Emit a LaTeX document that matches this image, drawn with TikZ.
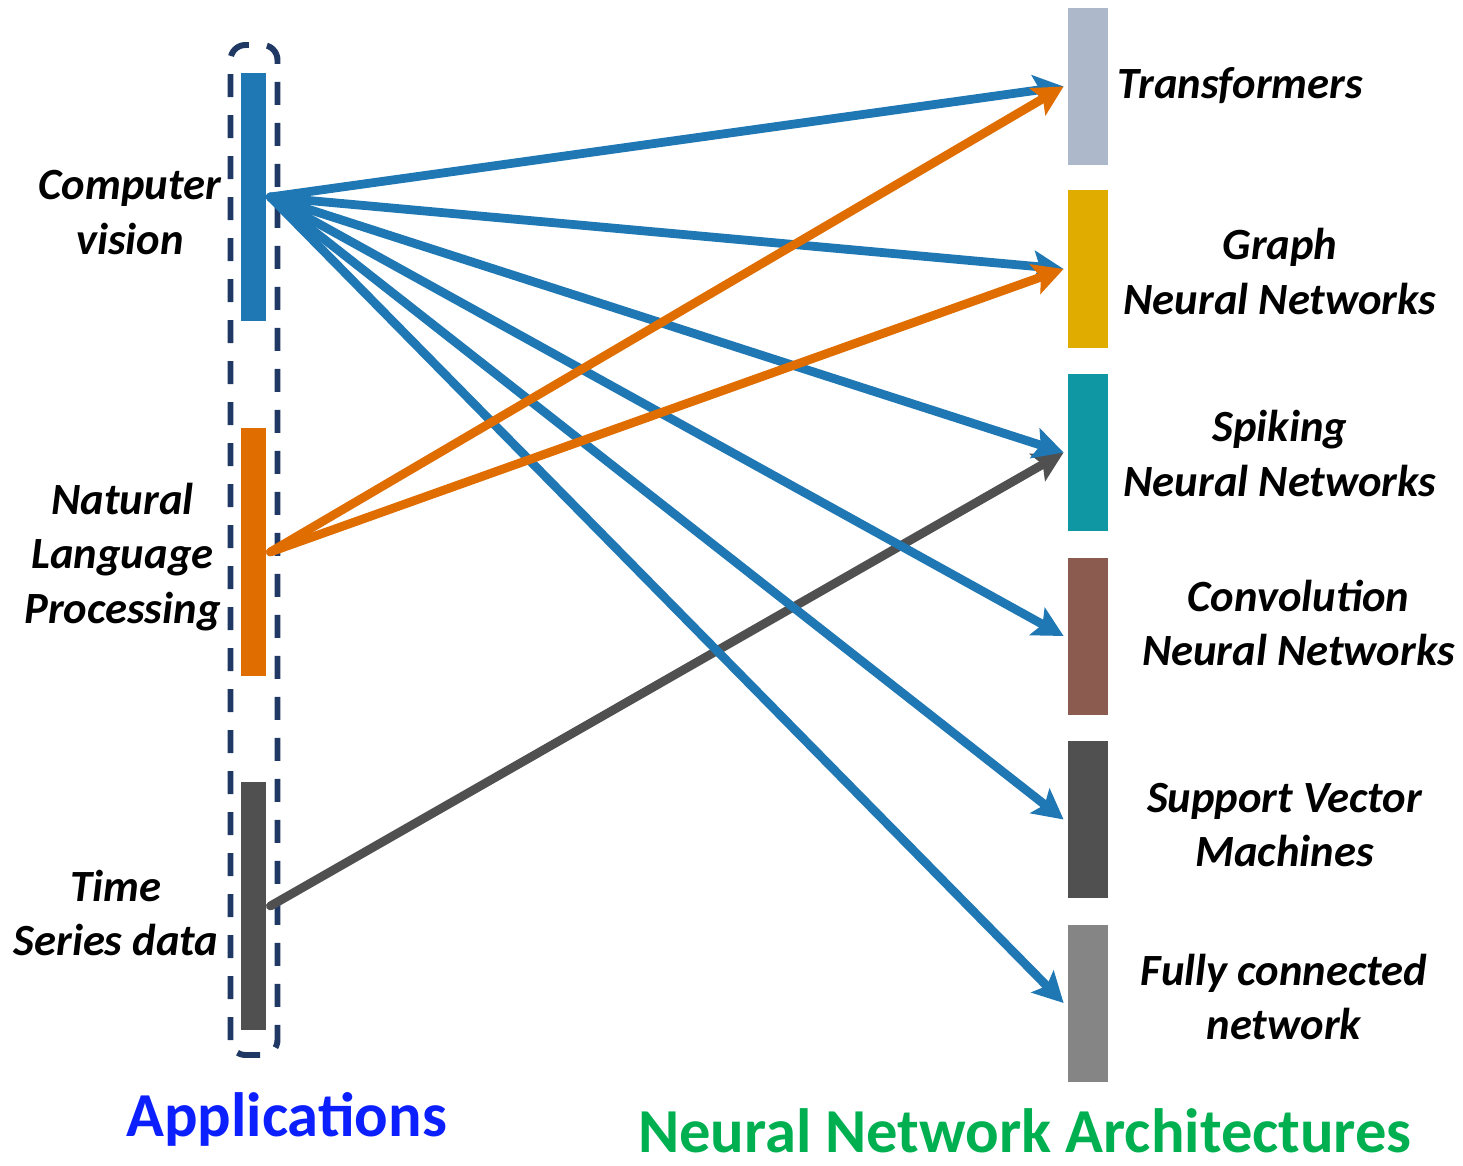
\documentclass[tikz,border=0pt]{standalone}
\usepackage{fontspec}
\setmainfont{Carlito}
\usepackage{xcolor}
\usepackage{tikz}
\usetikzlibrary{arrows.meta}
\definecolor{cvblue}{HTML}{1F77B4}
\definecolor{nlporange}{HTML}{DF6D00}
\definecolor{tsgray}{HTML}{505050}
\definecolor{trgray}{HTML}{ADB9CA}
\definecolor{gnngold}{HTML}{E0AC00}
\definecolor{snnteal}{HTML}{0F97A3}
\definecolor{cnnbrown}{HTML}{8C5B50}
\definecolor{fcgray}{HTML}{858585}
\definecolor{boxnavy}{HTML}{1F3864}
\definecolor{appblue}{HTML}{0B1FFF}
\definecolor{archgreen}{HTML}{00B050}
\tikzset{
	app node/.style={rectangle,fill=#1,minimum width=0.25cm,minimum height=2.48cm,inner sep=0pt},
	arch node/.style={rectangle,fill=#1,minimum width=0.40cm,minimum height=1.57cm,inner sep=0pt},
	text node/.style={align=center,inner sep=0pt,font=\fontsize{12.7}{15.4}\selectfont\bfseries\itshape},
	title node/.style={anchor=base,inner sep=0pt,text depth=0pt,font=\fontsize{17.8}{20}\selectfont\bfseries}
}

\begin{document}
\begin{tikzpicture}[->,>={Stealth[length=3mm,width=3.1mm,inset=0.6mm]},line width=2.5pt]
	\useasboundingbox (0,0) rectangle (14.63,11.65);
	\draw[-,boxnavy,line width=1.7pt,dash pattern=on 2.3mm off 1.8mm,rounded corners=1.5mm] (2.305,1.10) rectangle (2.775,11.20);
	% applications
	\node[app node=cvblue] (1) at (2.535,9.68) {};
	\node[app node=nlporange] (2) at (2.535,6.13) {};
	\node[app node=tsgray] (3) at (2.535,2.59) {};
	\node[text node] (l1) at (1.30,9.525) {Computer\\vision};
	\node[text node] (l2) at (1.225,6.08) {Natural\\Language\\Processing};
	\node[text node] (l3) at (1.16,2.52) {Time\\Series data};
	% architectures
	\node[arch node=trgray] (4) at (10.88,10.785) {};
	\node[arch node=gnngold] (5) at (10.88,8.96) {};
	\node[arch node=snnteal] (6) at (10.88,7.125) {};
	\node[arch node=cnnbrown] (7) at (10.88,5.29) {};
	\node[arch node=tsgray] (8) at (10.88,3.455) {};
	\node[arch node=fcgray] (9) at (10.88,1.62) {};
	\node[text node] (l4) at (12.405,10.79) {Transformers};
	\node[text node] (l5) at (12.80,8.935) {Graph\\Neural Networks};
	\node[text node] (l6) at (12.80,7.115) {Spiking\\Neural Networks};
	\node[text node] (l7) at (12.985,5.42) {Convolution\\Neural Networks};
	\node[text node] (l8) at (12.845,3.40) {Support Vector\\Machines};
	\node[text node] (l9) at (12.84,1.68) {Fully connected\\network};
	% titles
	\node[title node,text=appblue] (t1) at (2.865,0.29) {Applications};
	\node[title node,text=archgreen] (t2) at (10.25,0.13) {Neural Network Architectures};
	% connections
	\begin{scope}[line cap=round]
	\draw[tsgray] (3.east) -- (6.west);
	\foreach \n in {4,...,9}
		\draw[cvblue] (1.east) -- (\n.west);
	\foreach \n in {4,5}
		\draw[nlporange] (2.east) -- (\n.west);
	\end{scope}
\end{tikzpicture}
\end{document}
